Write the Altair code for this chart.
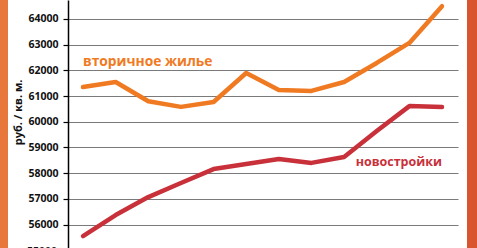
import altair as alt
import pandas as pd

# data
months = list(range(1, 13))
secondary = [61350, 61550, 60800, 60580, 60770, 61900, 61240, 61200, 61550, 62290, 63070, 64500]
newbuild = [55550, 56370, 57070, 57620, 58160, 58360, 58550, 58400, 58630, 59640, 60610, 60580]
series_names = ["вторичное жилье", "новостройки"]
series_colors = ["#f07a22", "#c8303a"]
tick_values = [56000, 57000, 58000, 59000, 60000, 61000, 62000, 63000, 64000]
bottom_tick = [55000]
y_title = "руб. / кв. м."

FONT = "Open Sans"

df = pd.DataFrame({
    "month": months * 2,
    "value": secondary + newbuild,
    "series": [series_names[0]] * 12 + [series_names[1]] * 12,
})

xs = alt.Scale(domain=[0.54, 12.49], nice=False, zero=False)
ys = alt.Scale(domain=[55089, 64739], nice=False, zero=False)
color = alt.Color("series:N", scale=alt.Scale(domain=series_names, range=series_colors), legend=None)
yaxis = alt.Axis(
    values=tick_values, grid=True, title=y_title, format="d", labelOverlap=False,
    titleX=-50, titleY=112, titleAngle=-90, titleAlign="center", titleBaseline="middle",
)

one = pd.DataFrame({"a": [0]})
bg_left = alt.Chart(one).mark_rect(color="#e8773b").encode(
    x=alt.value(-70), x2=alt.value(-60), y=alt.value(-5), y2=alt.value(260)
)
bg_right = alt.Chart(one).mark_rect(color="#d9552f").encode(
    x=alt.value(399), x2=alt.value(420), y=alt.value(-5), y2=alt.value(260)
)

lines = alt.Chart(df).mark_line(strokeWidth=4.5, strokeCap="round", strokeJoin="round").encode(
    x=alt.X("month:Q", scale=xs, axis=None),
    y=alt.Y("value:Q", scale=ys, axis=yaxis),
    color=color,
)

lbl_df = pd.DataFrame({
    "month": [1, 12],
    "value": [62330, 58440],
    "series": series_names,
})
lbl_left = alt.Chart(lbl_df.iloc[[0]]).mark_text(
    align="left", baseline="middle", font=FONT, fontWeight="bold", fontSize=13.8
).encode(x=alt.X("month:Q", scale=xs, axis=None), y=alt.Y("value:Q", scale=ys, axis=yaxis),
         text="series:N", color=color)
lbl_right = alt.Chart(lbl_df.iloc[[1]]).mark_text(
    align="right", baseline="middle", font=FONT, fontWeight="bold", fontSize=12.5
).encode(x=alt.X("month:Q", scale=xs, axis=None), y=alt.Y("value:Q", scale=ys, axis=yaxis),
         text="series:N", color=color)

bottom_lbl = alt.Chart(pd.DataFrame({"value": bottom_tick})).mark_text(
    align="right", baseline="middle", font=FONT, fontWeight="bold", fontSize=10.5, color="#111111", dy=2
).encode(x=alt.value(-11), y=alt.Y("value:Q", scale=ys, axis=yaxis), text=alt.Text("value:Q", format="d"))

chart = alt.layer(lines, lbl_left, lbl_right, bottom_lbl, bg_left, bg_right).properties(
    width=390, height=248,
    autosize=alt.AutoSizeParams(type="none"),
    padding={"left": 68, "top": 0, "right": 19, "bottom": 0},
    background="white",
).configure_view(stroke=None, fill=None).configure_axis(
    domainColor="#000000", domainWidth=1.5,
    tickColor="#000000", tickSize=5, tickWidth=1.2,
    gridColor="#7a7a7a", gridWidth=1.2,
    labelFont=FONT, labelFontWeight="bold", labelFontSize=10.5, labelColor="#111111", labelPadding=5,
    titleFont=FONT, titleFontWeight="bold", titleFontSize=11, titleColor="#111111",
)

chart.save("out.html", embed_options={"renderer": "svg", "actions": False})
